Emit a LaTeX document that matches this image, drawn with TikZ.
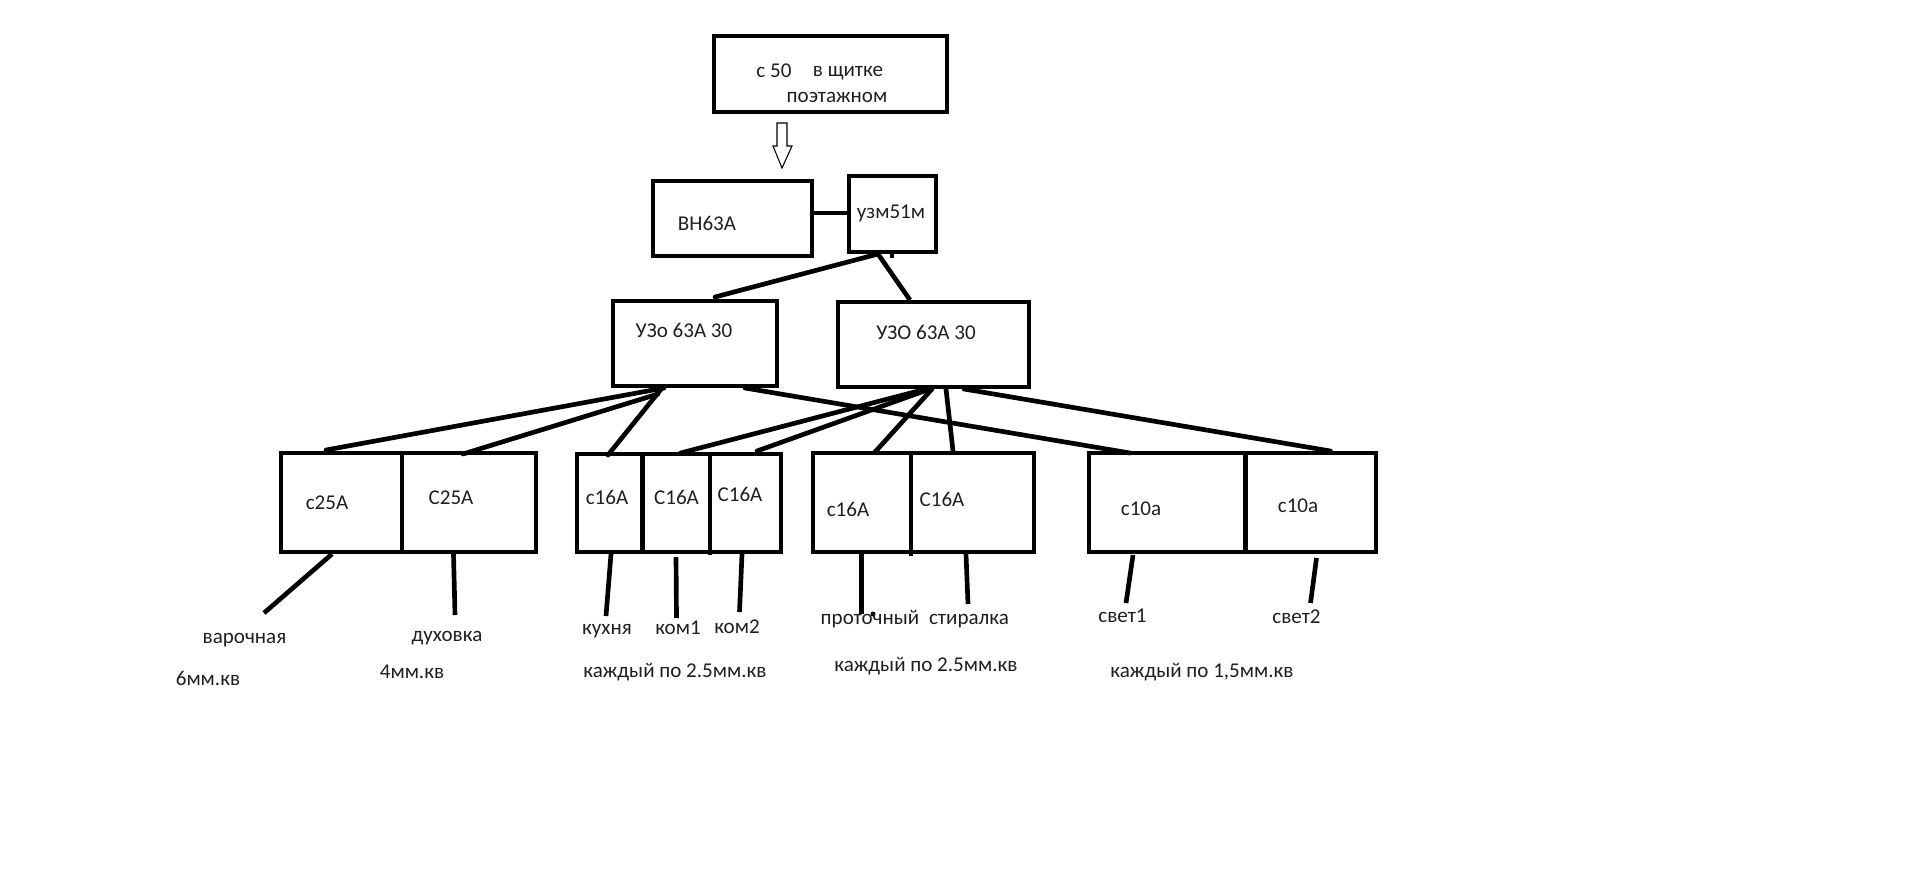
\documentclass[tikz,border=0pt]{standalone}
\usepackage{fontspec}
\setmainfont{Carlito}
\usetikzlibrary{calc}
\tikzset{
  x=0.75pt,y=-0.75pt,
  cell/.style={draw=black,line width=3.7pt,fill=none,inner sep=0pt,outer sep=0pt,anchor=north west,line join=miter},
  thinbox/.style={cell,line width=2.7pt},
  wire/.style={draw=black,line width=3.5pt,line cap=round},
  lab/.style={inner sep=0pt,outer sep=0pt,font=\fontsize{15.8}{16}\selectfont,text=black!88}
}
\begin{document}
\begin{tikzpicture}
\useasboundingbox (0,0) rectangle (1908,869);
% boxes
\node[thinbox,minimum width=174.75pt,minimum height=57pt] (top) at (714,36) {};
\node[cell,minimum width=119.25pt,minimum height=56.25pt] (bn) at (653,181) {};
\node[thinbox,minimum width=65.25pt,minimum height=57pt] (uzm) at (849,176) {};
\node[cell,minimum width=123pt,minimum height=63.75pt] (uzoA) at (613,301) {};
\node[cell,minimum width=143.25pt,minimum height=63.75pt] (uzoB) at (838,302) {};
\node[cell,minimum width=90.75pt,minimum height=74.25pt] (a1) at (281,453) {};
\node[cell,minimum width=100.5pt,minimum height=74.25pt] (a2) at (402,453) {};
\node[cell,minimum width=49.125pt,minimum height=73.5pt] (b1) at (577,454) {};
\node[cell,minimum width=50.625pt,minimum height=73.5pt] (b2) at (642.5,454) {};
\node[cell,minimum width=53.25pt,minimum height=73.5pt] (b3) at (710,454) {};
\node[cell,minimum width=73.5pt,minimum height=74.25pt] (c1) at (813,453) {};
\node[cell,minimum width=92.25pt,minimum height=74.25pt] (c2) at (911,453) {};
\node[cell,minimum width=117.375pt,minimum height=74.25pt] (d1) at (1089,453) {};
\node[cell,minimum width=97.875pt,minimum height=74.25pt] (d2) at (1245.5,453) {};
% hollow arrow
\draw[black,line width=0.8pt,line join=miter] (777,123) -- (787,123) -- (787,146) -- (792,146) -- (782,168) -- (773,146) -- (777,146) -- cycle;
% connectors
\draw[wire,line cap=butt] (bn.east|-0,213) -- (uzm.west|-0,213);
\draw[wire] ($(uzm.south west)+(29,2)$) -- ($(uzoA.north west)+(102,-4)$);
\draw[wire,line cap=butt] ($(uzm.south west)+(29,2)$) -- ($(uzoB.north west)+(72,-2)$);
\draw[wire,line cap=butt] ($(uzm.south west)+(43,0)$) -- ($(uzm.south west)+(43,6)$);
\draw[wire] ($(uzoA.south west)+(51,2)$) -- ($(a1.north west)+(45,-3)$);
\draw[wire] ($(uzoA.south west)+(45,8)$) -- ($(a2.north west)+(61,1)$);
\draw[wire] ($(uzoA.south west)+(49,2)$) -- ($(b1.north west)+(31,1)$);
\draw[wire] ($(uzoA.south west)+(132,2)$) -- ($(d1.north west)+(41,0)$);
\draw[wire] ($(uzoB.south west)+(88,2)$) -- ($(b2.north west)+(38,-1)$);
\draw[wire] ($(uzoB.south west)+(92,2)$) -- ($(b3.north west)+(47,-3)$);
\draw[wire] ($(uzoB.south west)+(94,2)$) -- ($(c1.north west)+(62,-1)$);
\draw[wire] ($(uzoB.south west)+(108,2)$) -- ($(c2.north west)+(42,-2)$);
\draw[wire] ($(uzoB.south west)+(126,2)$) -- ($(d2.north west)+(85,-2)$);
\draw[wire,line cap=butt] ($(a1.south west)+(51,2)$) -- ($(a1.south west)+(-17,61)$);
\draw[wire,line cap=butt] ($(a2.south west)+(51.5,2)$) -- ($(a2.south west)+(53,63)$);
\draw[wire,line cap=butt] ($(b1.south west)+(34,2)$) -- ($(b1.south west)+(29,64)$);
\draw[wire,line cap=butt] ($(b2.south west)+(33.5,5)$) -- ($(b2.south west)+(34,66)$);
\draw[wire,line cap=butt] ($(b3.south west)+(32,2)$) -- ($(b3.south west)+(29.5,60)$);
\draw[wire,line cap=butt] ($(c1.south west)+(48.6,2)$) -- ($(c1.south west)+(48.6,62)$);
\draw[wire,line cap=butt] ($(c2.south west)+(55,2)$) -- ($(c2.south west)+(57,52)$);
\draw[wire,line cap=butt] ($(d1.south west)+(44,3)$) -- ($(d1.south west)+(37,51)$);
\draw[wire,line cap=butt] ($(d2.south west)+(71,6)$) -- ($(d2.south west)+(65,51)$);
\draw[wire,line cap=butt] ($(b3.south west)+(0,0)$) -- ($(b3.south west)+(0,3)$);
\draw[wire,line cap=butt] ($(c2.south west)+(0,0)$) -- ($(c2.south west)+(0,4)$);
\fill[black] ($(c1.south west)+(60,62)$) circle[radius=2.5];
% labels
\node[lab] (t1) at (774,71) {с 50};
\node[lab] (t2) at (848,73.5) {в щитке};
\node[lab] (t3) at (837,97) {поэтажном};
\node[lab] (t4) at (707,223) {ВН63А};
\node[lab] (t5) at (891,213) {узм51м};
\node[lab] (t6) at (684,330) {УЗо 63А 30};
\node[lab] (t7) at (926,332) {УЗО 63А 30};
\node[lab] (t8) at (327,503) {с25А};
\node[lab] (t9) at (451,498) {С25А};
\node[lab] (t10) at (607,497) {с16А};
\node[lab] (t11) at (676.5,497) {С16А};
\node[lab] (t12) at (740,494) {С16А};
\node[lab] (t13) at (848,509) {с16А};
\node[lab] (t14) at (942,499) {С16А};
\node[lab] (t15) at (1141,509) {с10а};
\node[lab] (t16) at (1298,506) {с10а};
\node[lab] (t17) at (244.5,640) {варочная};
\node[lab] (t18) at (447,638) {духовка};
\node[lab] (t19) at (208,678) {6мм.кв};
\node[lab] (t20) at (412,672) {4мм.кв};
\node[lab] (t21) at (607,631) {кухня};
\node[lab] (t22) at (678,628) {ком1};
\node[lab] (t23) at (737,627) {ком2};
\node[lab] (t24) at (675,672) {каждый по 2.5мм.кв};
\node[lab] (t25) at (870,619) {проточный};
\node[lab] (t26) at (969,621) {стиралка};
\node[lab] (t27) at (926,666) {каждый по 2.5мм.кв};
\node[lab] (t28) at (1202,672) {каждый по 1,5мм.кв};
\node[lab] (t29) at (1122.5,616) {свет1};
\node[lab] (t30) at (1296.5,617) {свет2};
\end{tikzpicture}
\end{document}
